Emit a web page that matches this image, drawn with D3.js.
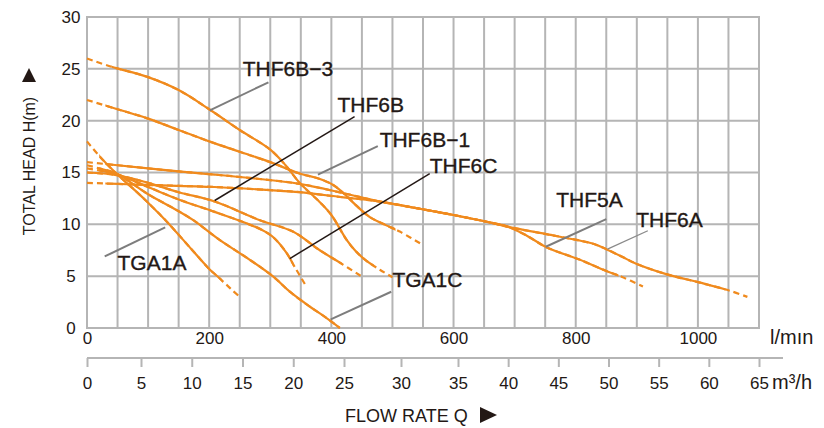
<!DOCTYPE html>
<html>
<head>
<meta charset="utf-8">
<script src="https://cdn.jsdelivr.net/npm/d3@7"></script>
<style>
  html, body { margin: 0; padding: 0; background: #fff; }
  svg { display: block; font-family: "Liberation Sans", Arial, Helvetica, sans-serif; }
</style>
</head>
<body>
<svg id="chart" width="824" height="428"></svg>
<script>
// ---- axis ticks ----
const flowTicksLmin = [0, 200, 400, 600, 800, 1000];
const flowTicksM3h = [0, 5, 10, 15, 20, 25, 30, 35, 40, 45, 50, 55, 60, 65];
const headTicks = [0, 5, 10, 15, 20, 25, 30];

// ---- pump performance curves: [flow (l/min), total head (m)] ----
const thf6b3 = [[0, 26.0], [40, 25.2], [100, 24.2], [150, 22.95], [200, 21.1], [250, 19.1],
  [300, 17.2], [325, 15.7], [348, 14.0], [380, 12.2], [400, 10.9], [425, 8.5], [440, 7.4], [457, 6.5],
  [480, 5.6], [500, 4.9]];
const thf6b1 = [[0, 22.0], [50, 21.1], [100, 20.2], [150, 19.1], [200, 18.0], [250, 17.0], [300, 16.0],
  [348, 14.9], [380, 14.4], [403, 13.8], [420, 13.0], [441, 11.8], [463, 10.7], [490, 9.9], [512, 9.3],
  [550, 8.0]];
const tga1a = [[0, 18.0], [20, 16.6], [48, 14.9], [80, 13.2], [105, 11.8], [130, 10.3], [171, 7.6],
  [200, 5.7], [217, 4.8], [235, 3.8], [250, 3.0]];
const thf5a = [[0, 16.0], [50, 15.7], [100, 15.4], [150, 15.1], [209, 14.8], [270, 14.45], [348, 13.9],
  [420, 13.0], [479, 12.2], [545, 11.5], [600, 10.9], [654, 10.25], [690, 9.75], [720, 8.9], [752, 7.8],
  [806, 6.6], [850, 5.5], [875, 4.95], [910, 4.0]];
const thf6a = [[0, 14.0], [50, 13.9], [100, 13.8], [209, 13.6], [300, 13.3], [348, 13.1], [420, 12.6],
  [479, 12.2], [545, 11.5], [600, 10.9], [654, 10.25], [690, 9.75], [752, 9.05], [801, 8.5], [830, 8.1],
  [850, 7.6], [875, 6.9], [899, 6.2], [948, 5.2], [1002, 4.4], [1052, 3.6], [1081, 3.0]];
const thf6b = [[0, 15.0], [48, 14.75], [100, 14.0], [150, 13.1], [209, 12.2], [283, 10.4],
  [337, 9.3], [381, 7.5], [414, 6.3], [449, 5.0]];
const thf6c = [[0, 15.4], [20, 15.2], [48, 14.85], [100, 13.6], [150, 12.4], [209, 11.2], [261, 10.1],
  [285, 9.5], [304, 8.8], [326, 7.3], [340, 5.9], [359, 4.0]];
const tga1c = [[0, 15.7], [20, 15.4], [48, 14.9], [100, 12.9], [140, 11.6], [174, 10.4], [217, 8.5],
  [266, 6.6], [305, 4.95], [332, 3.5], [365, 2.05], [390, 1.05], [414, 0]];

// flow range (l/min) drawn solid; outside it the curve is dashed
const curves = [
  { name: "THF6B−3", pts: thf6b3, solidFrom: 40, solidTo: 470 },
  { name: "THF6B−1", pts: thf6b1, solidFrom: 30, solidTo: 505 },
  { name: "TGA1A", pts: tga1a, solidFrom: 20, solidTo: 222 },
  { name: "THF5A", pts: thf5a, solidFrom: 30, solidTo: 870 },
  { name: "THF6A", pts: thf6a, solidFrom: 30, solidTo: 1045 },
  { name: "THF6B", pts: thf6b, solidFrom: 0, solidTo: 418 },
  { name: "THF6C", pts: thf6c, solidFrom: 20, solidTo: 338 },
  { name: "TGA1C", pts: tga1c, solidFrom: 20, solidTo: 414 }
];

// model labels with leader lines, in data units (flow l/min, head m)
const annotations = [
  { text: "THF6B−3", at: [255, 24.3], from: [297, 23.7], to: [201, 21.0], kind: "gray" },
  { text: "THF6B", at: [410, 20.8], from: [438, 20.4], to: [209, 12.3], kind: "black" },
  { text: "THF6B−1", at: [479, 17.5], from: [476, 17.55], to: [378, 14.8], kind: "gray" },
  { text: "THF6C", at: [561, 14.95], from: [561, 14.9], to: [332, 6.7], kind: "black" },
  { text: "TGA1A", at: [50, 5.6], from: [29, 6.9], to: [128, 9.7], kind: "gray" },
  { text: "TGA1C", at: [500, 4.0], from: [498, 3.5], to: [399, 0.84], kind: "gray" },
  { text: "THF5A", at: [768, 11.65], from: [850, 10.5], to: [751, 7.84], kind: "gray" },
  { text: "THF6A", at: [899, 9.77], from: [918, 9.38], to: [852, 7.6], kind: "thin" }
];

const ORANGE = "#f08a1d";
const GRID = "#b5b5b5";
const INK = "#231815";
const leaderStyle = {
  gray: { stroke: "#7d7d7d", width: 2 },
  thin: { stroke: "#8a8a8a", width: 1.3 },
  black: { stroke: "#231815", width: 1.5 }
};

const svg = d3.select("#chart");

const x = d3.scaleLinear().domain([0, 1100]).range([87, 759]);
const y = d3.scaleLinear().domain([0, 30]).range([328, 17]);
// secondary flow scale in m³/h
const xM3 = d3.scaleLinear().domain([0, 5, 25, 35, 65]).range([87, 141, 344, 458, 759]);

// ---- grid ----
const grid = svg.append("g");
grid.selectAll("line.v").data(d3.range(0, 1101, 50)).join("line")
  .attr("x1", d => x(d)).attr("x2", d => x(d))
  .attr("y1", y(30)).attr("y2", y(0))
  .attr("stroke", GRID).attr("stroke-width", 2);
grid.selectAll("line.h").data(d3.range(0, 31, 5)).join("line")
  .attr("x1", x(0) - 1).attr("x2", x(1100) + 1)
  .attr("y1", d => y(d)).attr("y2", d => y(d))
  .attr("stroke", GRID).attr("stroke-width", 2);

// ---- curves ----
const line = d3.line()
  .x(d => x(d[0])).y(d => y(d[1]))
  .curve(d3.curveCatmullRom.alpha(0.5));

const defs = svg.append("defs");
const curveG = svg.append("g");
curves.forEach((c, i) => {
  const id = "solid-" + i;
  defs.append("clipPath").attr("id", id)
    .append("rect")
    .attr("x", x(c.solidFrom)).attr("width", x(c.solidTo) - x(c.solidFrom))
    .attr("y", 0).attr("height", 428);
  curveG.append("path").datum(c.pts)
    .attr("d", line).attr("fill", "none")
    .attr("stroke", ORANGE).attr("stroke-width", 2.2)
    .attr("stroke-dasharray", "6,4");
  curveG.append("path").datum(c.pts)
    .attr("d", line).attr("fill", "none")
    .attr("stroke", ORANGE).attr("stroke-width", 2.2)
    .attr("clip-path", `url(#${id})`);
});

// ---- labels and leaders ----
const annG = svg.append("g");
annotations.forEach(a => {
  const s = leaderStyle[a.kind];
  annG.append("line")
    .attr("x1", x(a.from[0])).attr("y1", y(a.from[1]))
    .attr("x2", x(a.to[0])).attr("y2", y(a.to[1]))
    .attr("stroke", s.stroke).attr("stroke-width", s.width);
  annG.append("text")
    .attr("x", x(a.at[0])).attr("y", y(a.at[1]))
    .attr("font-size", 21).attr("fill", INK)
    .attr("stroke", INK).attr("stroke-width", 0.35)
    .text(a.text);
});

// ---- head axis ----
const yAxis = svg.append("g").attr("transform", `translate(${x(0)},0)`)
  .call(d3.axisLeft(y).tickValues(headTicks).tickSize(0).tickPadding(16));
yAxis.select(".domain").remove();
yAxis.selectAll("text").attr("text-anchor", "middle")
  .attr("font-size", 17).attr("fill", INK)
  .style("font-family", "Liberation Sans, Arial, sans-serif");

// ---- flow axis in l/min ----
const xAxis = svg.append("g").attr("transform", `translate(0,${y(0)})`)
  .call(d3.axisBottom(x).tickValues(flowTicksLmin).tickFormat(d3.format("d"))
    .tickSize(0).tickPadding(4));
xAxis.select(".domain").remove();
xAxis.selectAll("text").attr("font-size", 17).attr("fill", INK)
  .style("font-family", "Liberation Sans, Arial, sans-serif");
svg.append("text").attr("x", 770).attr("y", 344)
  .attr("font-size", 20).attr("fill", INK).text("l/mın");

// ---- flow axis in m³/h ----
const m3Y = 358;
svg.append("line").attr("x1", 87).attr("x2", 783).attr("y1", m3Y).attr("y2", m3Y)
  .attr("stroke", GRID).attr("stroke-width", 2);
const m3Axis = svg.append("g").attr("transform", `translate(0,${m3Y})`)
  .call(d3.axisBottom(xM3).tickValues(flowTicksM3h).tickFormat(d3.format("d"))
    .tickSize(9).tickPadding(10));
m3Axis.select(".domain").remove();
m3Axis.selectAll(".tick line").attr("stroke", GRID).attr("stroke-width", 2);
m3Axis.selectAll("text").attr("font-size", 17).attr("fill", INK)
  .style("font-family", "Liberation Sans, Arial, sans-serif");
svg.append("text").attr("x", 772).attr("y", 389)
  .attr("font-size", 20).attr("fill", INK).text("m³/h");

// ---- axis titles ----
svg.append("text").attr("x", 345).attr("y", 422)
  .attr("font-size", 18).attr("fill", INK).text("FLOW RATE Q");
svg.append("path").attr("d", "M480,407 L497,415 L480,423 Z").attr("fill", INK);

svg.append("text")
  .attr("transform", "translate(35,166) rotate(-90)")
  .attr("text-anchor", "middle")
  .attr("font-size", 16).attr("fill", INK).text("TOTAL HEAD H(m)");
svg.append("path").attr("d", "M22,82 L29,68 L36,82 Z").attr("fill", INK);
</script>
</body>
</html>
